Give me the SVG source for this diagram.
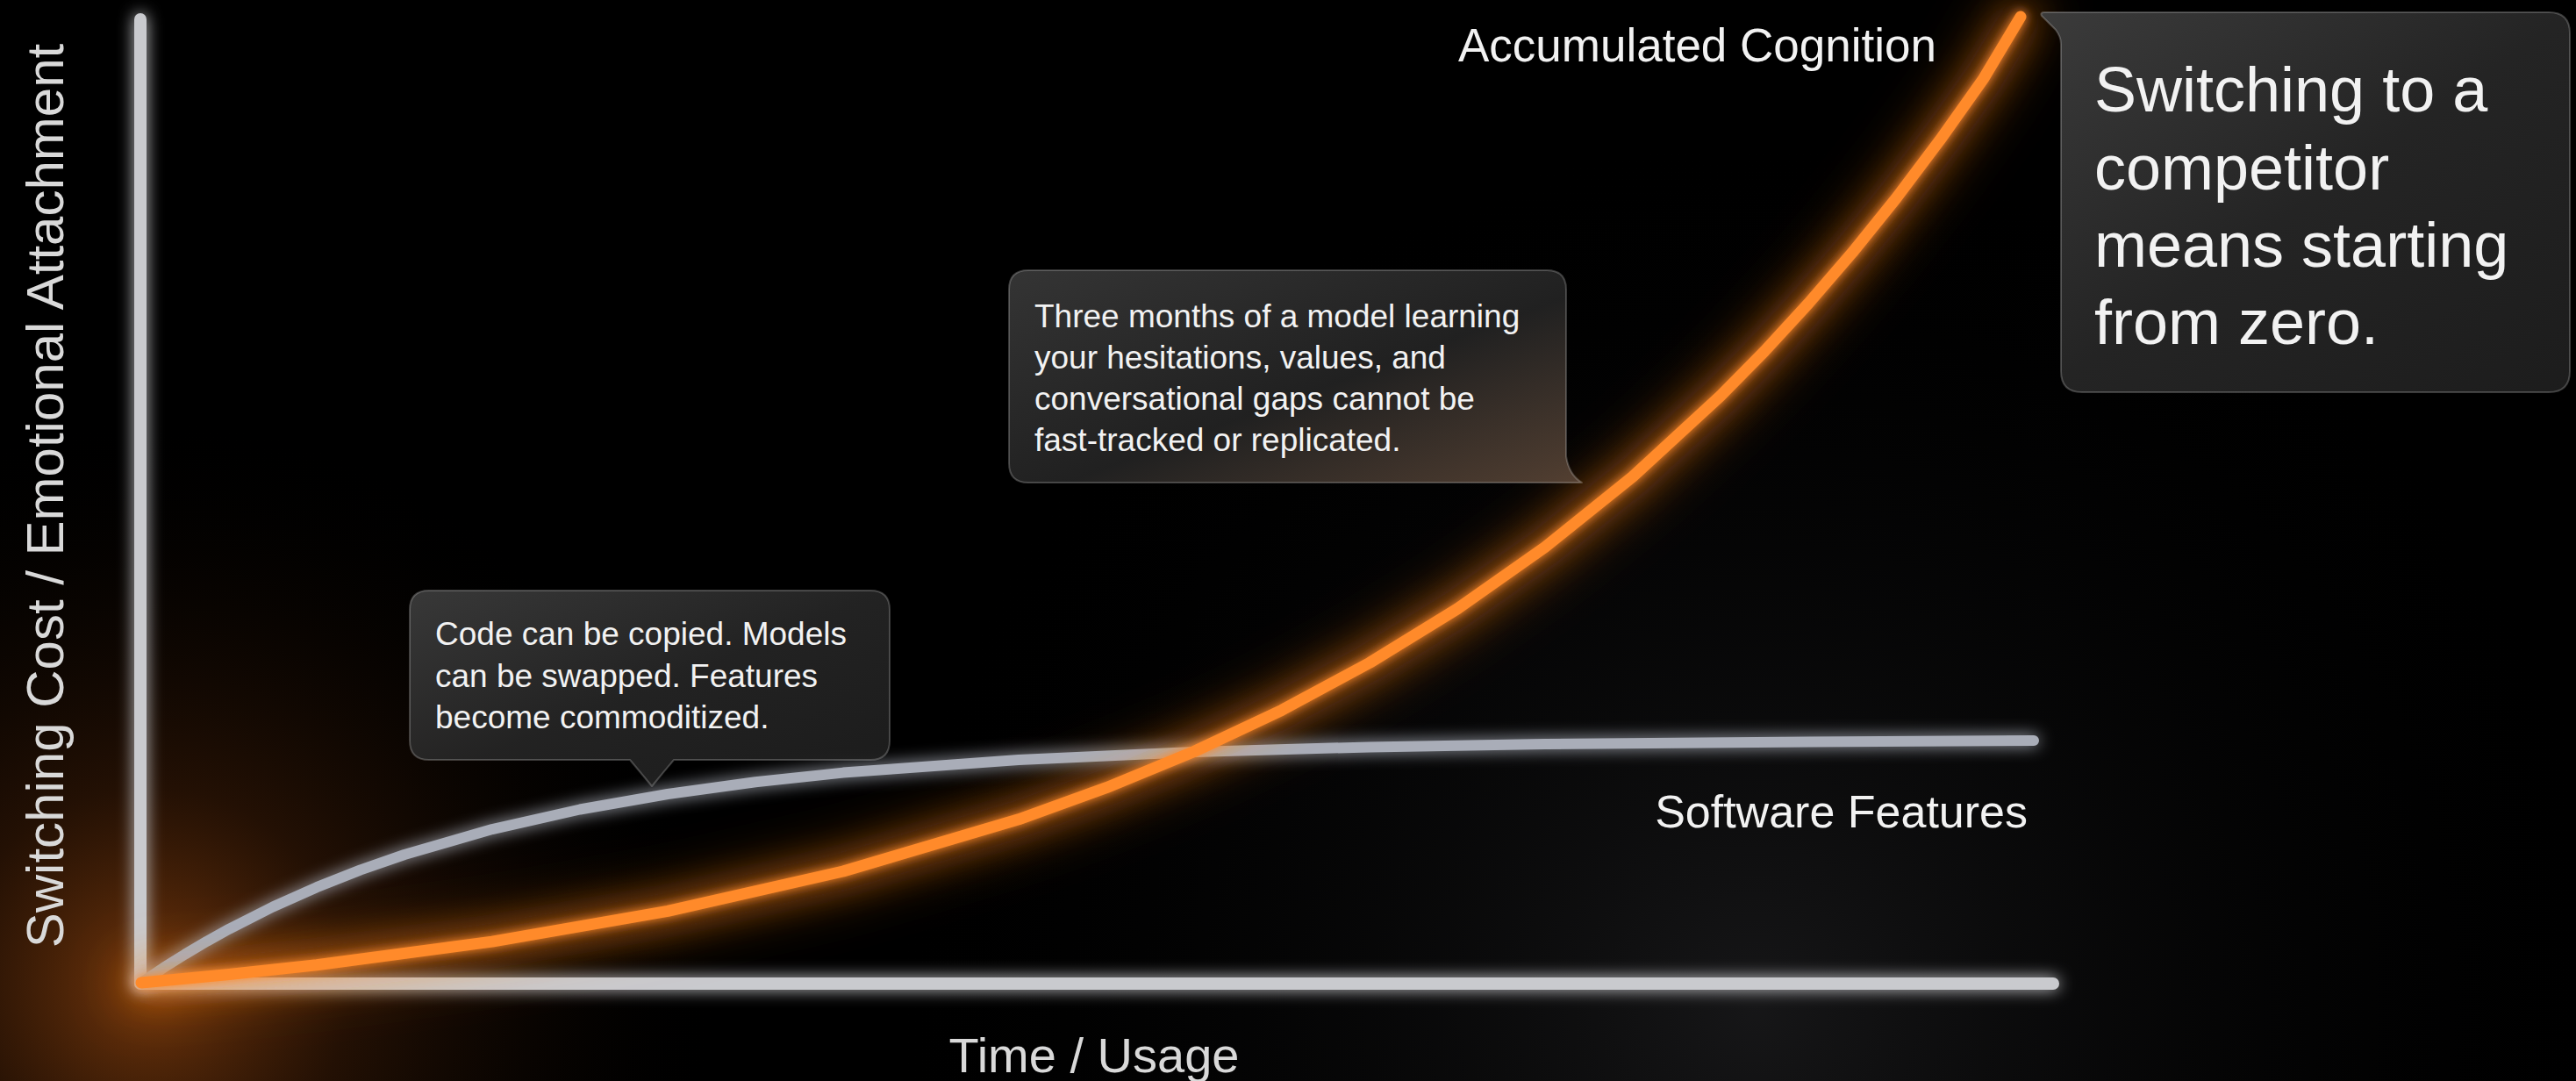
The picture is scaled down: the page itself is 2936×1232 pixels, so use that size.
<svg xmlns="http://www.w3.org/2000/svg" width="2936" height="1232" viewBox="0 0 2936 1232">
<defs>
<style>
.lbl{font-family:"Liberation Sans",Arial,sans-serif;fill:#d9d9d9}
.ctxt{font-family:"Liberation Sans",Arial,sans-serif;fill:#f2f2f2}
.box{stroke:#ffffff;stroke-opacity:0.22;stroke-width:2;stroke-linejoin:round}
.axis{stroke:#c9cace;stroke-width:14;stroke-linecap:round;fill:none}
</style>
<filter id="glowG" filterUnits="userSpaceOnUse" x="0" y="0" width="2936" height="1232">
<feGaussianBlur in="SourceGraphic" stdDeviation="9" result="b1"/>
<feMerge><feMergeNode in="b1"/><feMergeNode in="SourceGraphic"/></feMerge>
</filter>
<filter id="glowO" filterUnits="userSpaceOnUse" x="0" y="0" width="2936" height="1232">
<feGaussianBlur in="SourceGraphic" stdDeviation="6" result="b1"/>
<feGaussianBlur in="SourceGraphic" stdDeviation="20" result="b2"/>
<feMerge><feMergeNode in="b2"/><feMergeNode in="b1"/><feMergeNode in="SourceGraphic"/></feMerge>
</filter>
<filter id="soft" filterUnits="userSpaceOnUse" x="0" y="0" width="2936" height="1232">
<feGaussianBlur stdDeviation="30"/>
</filter>
<radialGradient id="originGlow" cx="170" cy="1125" r="650" gradientUnits="userSpaceOnUse">
<stop offset="0" stop-color="#ff7a1a" stop-opacity="0.45"/>
<stop offset="0.35" stop-color="#a04a12" stop-opacity="0.22"/>
<stop offset="1" stop-color="#000" stop-opacity="0"/>
</radialGradient>
<radialGradient id="grayGlow" cx="2000" cy="1150" r="1000" gradientUnits="userSpaceOnUse">
<stop offset="0" stop-color="#202022" stop-opacity="0.7"/>
<stop offset="1" stop-color="#000" stop-opacity="0"/>
</radialGradient>
<linearGradient id="boxFill" x1="0" y1="0" x2="1" y2="1">
<stop offset="0" stop-color="#3e3e3e"/>
<stop offset="0.5" stop-color="#262626"/>
<stop offset="1" stop-color="#1e1e1e"/>
</linearGradient>
<linearGradient id="boxFill2" x1="0" y1="0" x2="1" y2="1">
<stop offset="0" stop-color="#3a3a3a"/>
<stop offset="0.55" stop-color="#242424"/>
<stop offset="1" stop-color="#5a4536"/>
</linearGradient>
</defs>

<rect width="2936" height="1232" fill="#000"/>
<rect width="2936" height="1232" fill="url(#grayGlow)"/>
<rect width="2936" height="1232" fill="url(#originGlow)"/>

<g id="axes">
<line class="axis" x1="160" y1="22" x2="160" y2="1120" filter="url(#glowG)"/>
<line class="axis" x1="160" y1="1121" x2="2340" y2="1121" filter="url(#glowG)"/>
</g>

<g id="connectors">
<polyline fill="none" stroke="#ff7a1a" stroke-opacity="0.3" stroke-width="50" stroke-linecap="round" stroke-linejoin="round" filter="url(#soft)"
points="161,1120 261,1110.5 361,1099.7 561,1073.1 761,1038.3 961,993 1161,933.8 1261,897.7 1361,856.5 1461,809.3 1561,755.4 1661,693.9 1761,623.5 1861,543.1 1961,451.1 2011,400.4 2061,346 2111,288.1 2161,226.2 2211,159.7 2261,89.2 2303,19"/>
<polyline id="software-features-curve" fill="none" stroke="#a9adb8" stroke-width="12" stroke-linecap="round" stroke-linejoin="round" filter="url(#glowG)"
points="161,1120 186,1103.2 211,1087.5 236,1072.7 261,1058.8 311,1033.5 361,1011.2 411,991.4 461,974 561,945.1 661,922.5 761,905 861,891.3 961,880.6 1161,865.9 1361,856.9 1561,851.4 1761,848.1 2061,845.4 2318,844"/>
<polyline id="accumulated-cognition-curve" fill="none" stroke="#ff8a2a" stroke-width="13" stroke-linecap="round" stroke-linejoin="round" filter="url(#glowO)"
points="161,1120 261,1110.5 361,1099.7 561,1073.1 761,1038.3 961,993 1161,933.8 1261,897.7 1361,856.5 1461,809.3 1561,755.4 1661,693.9 1761,623.5 1861,543.1 1961,451.1 2011,400.4 2061,346 2111,288.1 2161,226.2 2211,159.7 2261,89.2 2303,19"/>
</g>

<g id="y-axis-label">
<text class="lbl" transform="translate(72,565) rotate(-90)" text-anchor="middle" font-size="60">Switching Cost / Emotional Attachment</text>
</g>
<g id="x-axis-label">
<text class="lbl" x="1247" y="1222" text-anchor="middle" font-size="56">Time / Usage</text>
</g>
<g id="label-accumulated-cognition">
<text class="ctxt" x="2207" y="70" text-anchor="end" font-size="53">Accumulated Cognition</text>
</g>
<g id="label-software-features">
<text class="ctxt" x="2311" y="943" text-anchor="end" font-size="52">Software Features</text>
</g>

<g id="callout-commoditized">
<path class="box" fill="url(#boxFill)" fill-opacity="0.9" d="M489,673 L992,673 Q1014,673 1014,695 L1014,844 Q1014,866 992,866 L768,866 L743,896 L718,866 L489,866 Q467,866 467,844 L467,695 Q467,673 489,673 Z"/>
<text class="ctxt" font-size="37"><tspan x="496" y="735">Code can be copied. Models</tspan><tspan x="496" y="783">can be swapped. Features</tspan><tspan x="496" y="830">become commoditized.</tspan></text>
</g>

<g id="callout-three-months">
<path class="box" fill="url(#boxFill2)" fill-opacity="0.9" d="M1172,308 L1763,308 Q1785,308 1785,330 L1785,520 Q1788,541 1803,550 L1172,550 Q1150,550 1150,528 L1150,330 Q1150,308 1172,308 Z"/>
<text class="ctxt" font-size="37"><tspan x="1179" y="373">Three months of a model learning</tspan><tspan x="1179" y="420">your hesitations, values, and</tspan><tspan x="1179" y="467">conversational gaps cannot be</tspan><tspan x="1179" y="514">fast-tracked or replicated.</tspan></text>
</g>

<g id="callout-switching">
<path class="box" fill="url(#boxFill)" fill-opacity="0.95" d="M2330,14 L2905,14 Q2929,14 2929,38 L2929,423 Q2929,447 2905,447 L2373,447 Q2349,447 2349,423 L2349,50 Q2349,42 2343,34 L2327,18 Q2325,14 2330,14 Z"/>
<text class="ctxt" font-size="72"><tspan x="2387" y="127">Switching to a</tspan><tspan x="2387" y="216">competitor</tspan><tspan x="2387" y="304">means starting</tspan><tspan x="2387" y="392">from zero.</tspan></text>
</g>
</svg>
